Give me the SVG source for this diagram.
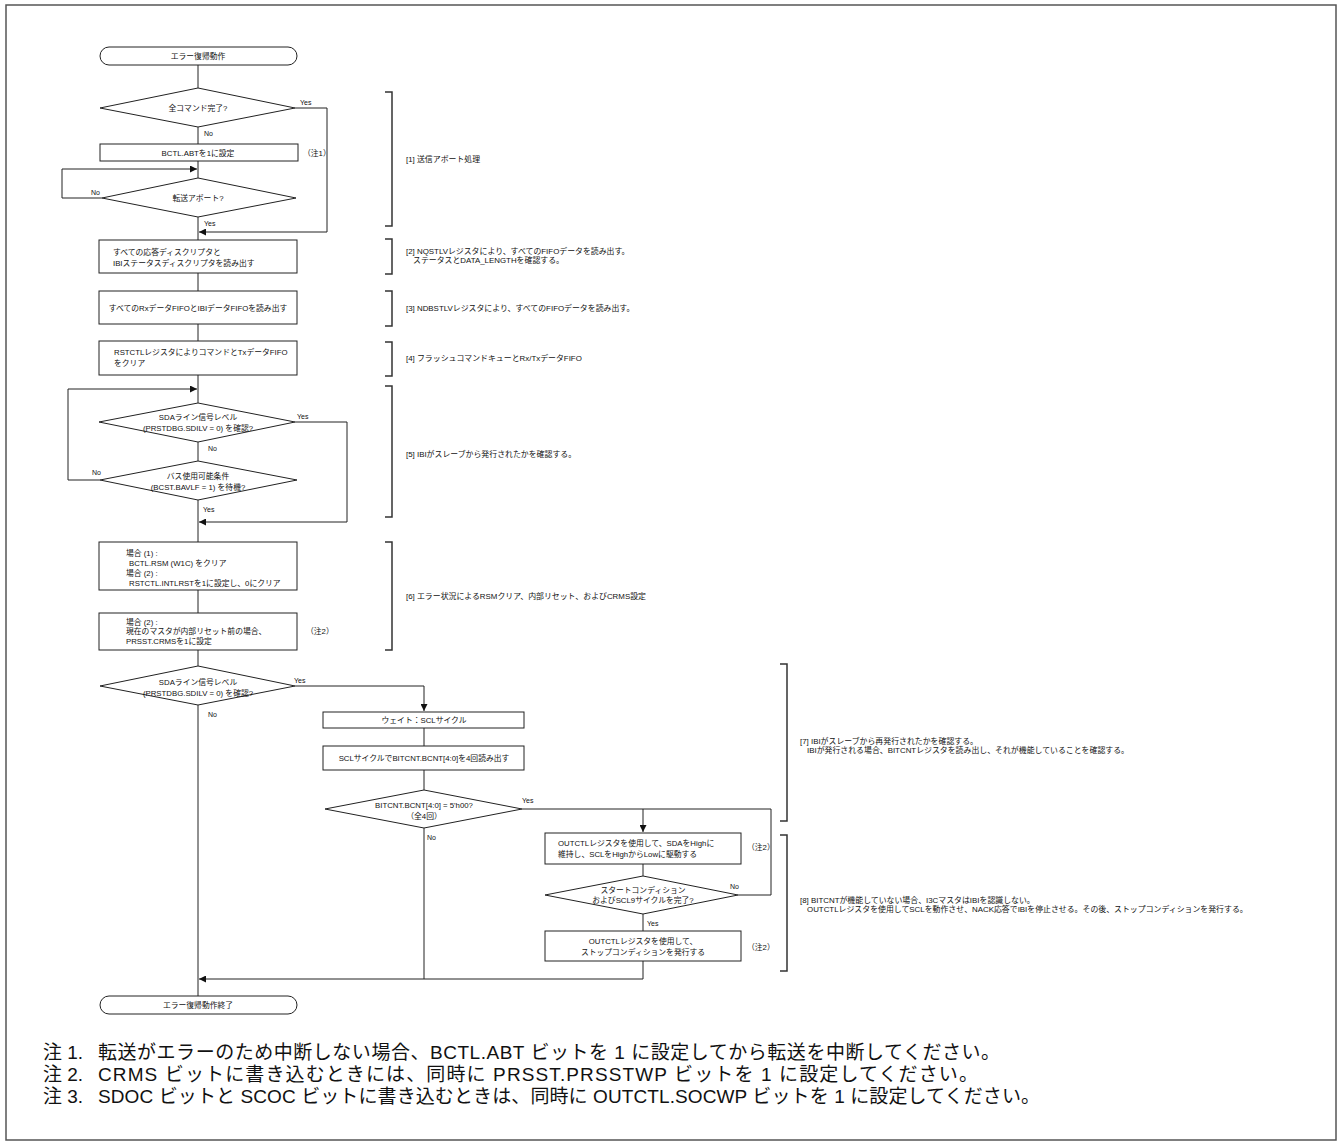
<svg xmlns="http://www.w3.org/2000/svg" width="1343" height="1146" viewBox="0 0 1343 1146">
<style>
text{font-family:"Liberation Sans","Noto Sans CJK JP",sans-serif;fill:#111;}
.t{font-size:7.8px;dominant-baseline:central;}
.a{font-size:7.9px;dominant-baseline:central;}
.c{text-anchor:middle;}
.lb{font-size:7px;dominant-baseline:central;}
.shape{fill:#fff;stroke:#222;stroke-width:1;}
.ln{fill:none;stroke:#222;stroke-width:1;}
.br{fill:none;stroke:#333;stroke-width:1.5;}
.note{font-size:19px;dominant-baseline:central;}
</style>
<defs>
<marker id="ar" viewBox="0 0 10 10" refX="10" refY="5" markerWidth="9" markerHeight="7" markerUnits="userSpaceOnUse" orient="auto">
<path d="M0,0 L10,5 L0,10 z" fill="#111"/>
</marker>
</defs>
<rect x="6" y="5" width="1330" height="1135" fill="#fff" stroke="#555" stroke-width="1.5"/>

<g id="connectors">
<path class="ln" d="M198,65 V88"/>
<path class="ln" d="M198,127 V144"/>
<path class="ln" d="M198,161 V178"/>
<path class="ln" d="M295,108 H327 V232 H199" marker-end="url(#ar)"/>
<path class="ln" d="M102,198 H62 V169 H197" marker-end="url(#ar)"/>
<path class="ln" d="M198,217 V240"/>
<path class="ln" d="M198,273 V291"/>
<path class="ln" d="M198,324 V341"/>
<path class="ln" d="M198,375 V403"/>
<path class="ln" d="M100,480 H68 V389 H197" marker-end="url(#ar)"/>
<path class="ln" d="M198,442 V461"/>
<path class="ln" d="M295,422 H347 V522 H199" marker-end="url(#ar)"/>
<path class="ln" d="M198,500 V542"/>
<path class="ln" d="M198,590 V613"/>
<path class="ln" d="M198,650 V666"/>
<path class="ln" d="M295,686 H424 V711" marker-end="url(#ar)"/>
<path class="ln" d="M198,705 V996"/>
<path class="ln" d="M424,728 V746"/>
<path class="ln" d="M424,770 V790"/>
<path class="ln" d="M522,809 H771 V895 H738"/>
<path class="ln" d="M643,809 V832" marker-end="url(#ar)"/>
<path class="ln" d="M643,864 V876"/>
<path class="ln" d="M643,914 V931"/>
<path class="ln" d="M424,828 V979"/>
<path class="ln" d="M643,961 V979 H199" marker-end="url(#ar)"/>
</g>

<g id="labels">
<text class="lb" x="300" y="102">Yes</text>
<text class="lb" x="204" y="133">No</text>
<text class="lb" x="91" y="192">No</text>
<text class="lb" x="204" y="223">Yes</text>
<text class="lb" x="297" y="416">Yes</text>
<text class="lb" x="208" y="448">No</text>
<text class="lb" x="92" y="472">No</text>
<text class="lb" x="203" y="509">Yes</text>
<text class="lb" x="294" y="680">Yes</text>
<text class="lb" x="208" y="714">No</text>
<text class="lb" x="522" y="800">Yes</text>
<text class="lb" x="427" y="837">No</text>
<text class="lb" x="730" y="886">No</text>
<text class="lb" x="647" y="923">Yes</text>
</g>

<g id="start">
<rect class="shape" x="100" y="47" width="197" height="18" rx="9"/>
<text class="t c" x="198" y="56">エラー復帰動作</text>
</g>
<g id="d1">
<polygon class="shape" points="100,108 198,88 295,108 198,127"/>
<text class="t c" x="198" y="108">全コマンド完了?</text>
</g>
<g id="b1">
<rect class="shape" x="100" y="144" width="198" height="17"/>
<text class="t c" x="198" y="153">BCTL.ABTを1に設定</text>
<text class="t" x="303" y="153">（注1）</text>
</g>
<g id="d2">
<polygon class="shape" points="102,198 198,178 296,198 198,217"/>
<text class="t c" x="198" y="198">転送アボート?</text>
</g>
<g id="b2">
<rect class="shape" x="99" y="240" width="198" height="33"/>
<text class="t" x="113" y="252.5">すべての応答ディスクリプタと</text>
<text class="t" x="113" y="263">IBIステータスディスクリプタを読み出す</text>
</g>
<g id="b3">
<rect class="shape" x="99" y="291" width="198" height="33"/>
<text class="t c" x="198" y="308">すべてのRxデータFIFOとIBIデータFIFOを読み出す</text>
</g>
<g id="b4">
<rect class="shape" x="99" y="341" width="198" height="34"/>
<text class="t" x="114" y="352.5">RSTCTLレジスタによりコマンドとTxデータFIFO</text>
<text class="t" x="114" y="363">をクリア</text>
</g>
<g id="d3">
<polygon class="shape" points="99,422 198,403 295,422 198,442"/>
<text class="t c" x="198" y="417">SDAライン信号レベル</text>
<text class="t c" x="198" y="428">(PRSTDBG.SDILV = 0) を確認?</text>
</g>
<g id="d4">
<polygon class="shape" points="100,480 198,461 297,480 198,500"/>
<text class="t c" x="198" y="476">バス使用可能条件</text>
<text class="t c" x="198" y="487">(BCST.BAVLF = 1) を待機?</text>
</g>
<g id="b5">
<rect class="shape" x="99" y="542" width="198" height="48"/>
<text class="t" x="126" y="553">場合 (1) :</text>
<text class="t" x="129" y="563">BCTL.RSM (W1C) をクリア</text>
<text class="t" x="126" y="573">場合 (2) :</text>
<text class="t" x="129" y="583">RSTCTL.INTLRSTを1に設定し、0にクリア</text>
</g>
<g id="b6">
<rect class="shape" x="99" y="613" width="198" height="37"/>
<text class="t" x="126" y="622">場合 (2) :</text>
<text class="t" x="126" y="631.5">現在のマスタが内部リセット前の場合、</text>
<text class="t" x="126" y="641">PRSST.CRMSを1に設定</text>
<text class="t" x="306" y="631">（注2）</text>
</g>
<g id="d7">
<polygon class="shape" points="100,686 198,666 295,686 198,705"/>
<text class="t c" x="198" y="682">SDAライン信号レベル</text>
<text class="t c" x="198" y="693">(PRSTDBG.SDILV = 0) を確認?</text>
</g>
<g id="b7">
<rect class="shape" x="323" y="712" width="201" height="16"/>
<text class="t c" x="424" y="720">ウェイト：SCLサイクル</text>
</g>
<g id="b8">
<rect class="shape" x="323" y="746" width="201" height="24"/>
<text class="t c" x="424" y="758">SCLサイクルでBITCNT.BCNT[4:0]を4回読み出す</text>
</g>
<g id="d8">
<polygon class="shape" points="325,809 424,790 522,809 424,828"/>
<text class="t c" x="424" y="805">BITCNT.BCNT[4:0] = 5'h00?</text>
<text class="t c" x="424" y="816">（全4回）</text>
</g>
<g id="b9">
<rect class="shape" x="545" y="833" width="196" height="31"/>
<text class="t" x="558" y="843.5">OUTCTLレジスタを使用して、SDAをHighに</text>
<text class="t" x="558" y="854">維持し、SCLをHighからLowに駆動する</text>
<text class="t" x="747" y="847">（注2）</text>
</g>
<g id="d9">
<polygon class="shape" points="545,895 643,876 738,895 643,914"/>
<text class="t c" x="643" y="890">スタートコンディション</text>
<text class="t c" x="643" y="900">およびSCL9サイクルを完了?</text>
</g>
<g id="b10">
<rect class="shape" x="545" y="931" width="196" height="30"/>
<text class="t c" x="643" y="941.5">OUTCTLレジスタを使用して、</text>
<text class="t c" x="643" y="952">ストップコンディションを発行する</text>
<text class="t" x="747" y="947">（注2）</text>
</g>
<g id="end">
<rect class="shape" x="100" y="996" width="197" height="18" rx="9"/>
<text class="t c" x="198" y="1005">エラー復帰動作終了</text>
</g>

<g id="annotations">
<path class="br" d="M385,92 H392 V226 H385"/>
<text class="a" x="406" y="159">[1] 送信アボート処理</text>
<path class="br" d="M385,239 H392 V274 H385"/>
<text class="a" x="406" y="251">[2] NQSTLVレジスタにより、すべてのFIFOデータを読み出す。</text>
<text class="a" x="413" y="260">ステータスとDATA_LENGTHを確認する。</text>
<path class="br" d="M385,291 H392 V326 H385"/>
<text class="a" x="406" y="308">[3] NDBSTLVレジスタにより、すべてのFIFOデータを読み出す。</text>
<path class="br" d="M385,342 H392 V376 H385"/>
<text class="a" x="406" y="358">[4] フラッシュコマンドキューとRx/TxデータFIFO</text>
<path class="br" d="M385,386 H392 V517 H385"/>
<text class="a" x="406" y="454">[5] IBIがスレーブから発行されたかを確認する。</text>
<path class="br" d="M385,542 H392 V650 H385"/>
<text class="a" x="406" y="596">[6] エラー状況によるRSMクリア、内部リセット、およびCRMS設定</text>
<path class="br" d="M780,664 H787 V821 H780"/>
<text class="a" x="800" y="741">[7] IBIがスレーブから再発行されたかを確認する。</text>
<text class="a" x="807" y="750">IBIが発行される場合、BITCNTレジスタを読み出し、それが機能していることを確認する。</text>
<path class="br" d="M780,835 H787 V971 H780"/>
<text class="a" x="800" y="900">[8] BITCNTが機能していない場合、I3CマスタはIBIを認識しない。</text>
<text class="a" x="807" y="909">OUTCTLレジスタを使用してSCLを動作させ、NACK応答でIBIを停止させる。その後、ストップコンディションを発行する。</text>
</g>

<g id="notes">
<text class="note" x="43" y="1052">注 1.</text>
<text class="note" x="98" y="1052" textLength="902">転送がエラーのため中断しない場合、BCTL.ABT ビットを 1 に設定してから転送を中断してください。</text>
<text class="note" x="43" y="1074">注 2.</text>
<text class="note" x="98" y="1074" textLength="880">CRMS ビットに書き込むときには、同時に PRSST.PRSSTWP ビットを 1 に設定してください。</text>
<text class="note" x="43" y="1096">注 3.</text>
<text class="note" x="98" y="1096" textLength="942">SDOC ビットと SCOC ビットに書き込むときは、同時に OUTCTL.SOCWP ビットを 1 に設定してください。</text>
</g>
</svg>
